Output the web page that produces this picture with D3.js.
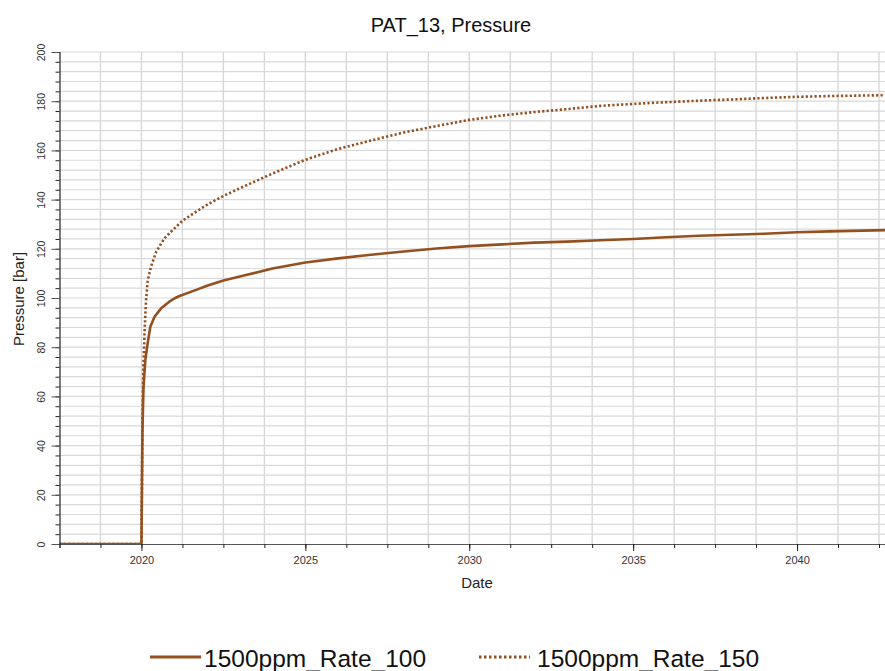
<!DOCTYPE html>
<html>
<head>
<meta charset="utf-8">
<script src="https://cdn.jsdelivr.net/npm/d3@7"></script>
<style>
  html, body { margin: 0; padding: 0; background: #fff; }
  svg { display: block; font-family: "Liberation Sans", Arial, sans-serif; }
</style>
</head>
<body>
<svg id="chart" width="885" height="671"></svg>
<script>
// Simulated well pressure (bar) at PAT_13, decimal-year timestamps
const dates100 = [2017.5, 2020.0, 2020.03, 2020.06, 2020.12, 2020.19, 2020.27, 2020.4, 2020.6, 2020.85,
  2021.0, 2021.16, 2021.67, 2022.0, 2022.5, 2023.0, 2024.0, 2025.0, 2026.0, 2027.0, 2028.0, 2029.0,
  2030.0, 2031.0, 2032.0, 2033.0, 2034.0, 2035.0, 2036.0, 2037.0, 2038.0, 2039.0, 2040.0, 2041.0,
  2042.0, 2043.0];
const rate100 = [0, 0, 45, 63, 75, 81.6, 88.3, 92.4, 95.8, 98.5,
  99.8, 100.8, 103.3, 105.0, 107.1, 108.7, 112.0, 114.4, 116.1, 117.6, 118.9, 120.1,
  121.1, 121.8, 122.5, 122.9, 123.5, 124.0, 124.7, 125.3, 125.7, 126.1, 126.7, 127.1,
  127.4, 127.7];

const dates150 = [2017.5, 2020.0, 2020.03, 2020.06, 2020.1, 2020.14, 2020.19, 2020.29, 2020.45, 2020.7,
  2021.0, 2021.25, 2021.67, 2022.0, 2022.5, 2023.0, 2024.0, 2025.0, 2026.0, 2027.0, 2028.0, 2029.0,
  2030.0, 2031.0, 2032.0, 2033.0, 2034.0, 2035.0, 2036.0, 2037.0, 2038.0, 2039.0, 2040.0, 2041.0,
  2042.0, 2043.0];
const rate150 = [0, 0, 50, 72, 88, 99, 107, 112.7, 118.8, 124.3,
  128.2, 131.4, 135.1, 137.9, 141.5, 144.6, 150.6, 156.2, 160.6, 164.0, 167.3, 169.9,
  172.4, 174.2, 175.6, 176.8, 178.1, 178.9, 179.6, 180.2, 180.7, 181.3, 181.8, 182.1,
  182.3, 182.5];

const seriesNames = ["1500ppm_Rate_100", "1500ppm_Rate_150"];
const xTickYears = [2020, 2025, 2030, 2035, 2040];
const yTickValues = [0, 20, 40, 60, 80, 100, 120, 140, 160, 180, 200];

const svg = d3.select("#chart");
const lineColor = "#94501f";

const plotLeft = 59.5, plotBottom = 544, plotTop = 52, plotRight = 885;
const pxPerYear = 32.78;
const xStart = 2017.5;
const xEnd = xStart + (plotRight - plotLeft) / pxPerYear;

const x = d3.scaleLinear().domain([xStart, xEnd]).range([plotLeft, plotRight]);
const y = d3.scaleLinear().domain([0, 200]).range([plotBottom, plotTop]);

// minor positions: every 1.25 years on x, every 4 bar on y
const xMinor = d3.range(xStart, xEnd + 1e-9, 1.25);
const yMinor = d3.range(0, 200.001, 4);

// grid
const grid = svg.append("g");
grid.selectAll("line.v").data(xMinor.filter(v => v > xStart)).join("line")
  .attr("x1", d => x(d)).attr("x2", d => x(d))
  .attr("y1", plotTop).attr("y2", plotBottom)
  .attr("stroke", "#d6d6d6").attr("stroke-width", 1.3);
grid.selectAll("line.h").data(yMinor.filter(v => v > 0)).join("line")
  .attr("x1", plotLeft).attr("x2", plotRight)
  .attr("y1", d => y(d)).attr("y2", d => y(d))
  .attr("stroke", "#d9d9d9").attr("stroke-width", 1.2);

// series lines, clipped to the plot area
svg.append("clipPath").attr("id", "plotclip").append("rect")
  .attr("x", plotLeft).attr("y", plotTop - 2)
  .attr("width", plotRight - plotLeft).attr("height", plotBottom - plotTop + 2);

const line = d3.line().x(d => x(d[0])).y(d => y(d[1]));

svg.append("path")
  .datum(d3.zip(dates150, rate150))
  .attr("d", line)
  .attr("clip-path", "url(#plotclip)")
  .attr("fill", "none").attr("stroke", lineColor)
  .attr("stroke-width", 2.6).attr("stroke-dasharray", "2.2,2.2");

svg.append("path")
  .datum(d3.zip(dates100, rate100))
  .attr("d", line)
  .attr("clip-path", "url(#plotclip)")
  .attr("fill", "none").attr("stroke", lineColor)
  .attr("stroke-width", 2.6).attr("stroke-linejoin", "round");

// x axis
const xAxisMinor = d3.axisBottom(x).tickValues(xMinor).tickSize(4).tickFormat("");
const gxm = svg.append("g").attr("transform", `translate(0,${plotBottom})`).call(xAxisMinor);
gxm.select(".domain").attr("stroke", "#555").attr("stroke-width", 1.2);
gxm.selectAll(".tick line").attr("stroke", "#222");

const xAxisMajor = d3.axisBottom(x).tickValues(xTickYears).tickSize(7).tickPadding(5).tickFormat(d3.format("d"));
const gx = svg.append("g").attr("transform", `translate(0,${plotBottom})`).call(xAxisMajor);
gx.select(".domain").remove();
gx.selectAll(".tick line").attr("stroke", "#222");
gx.selectAll(".tick text").attr("font-size", 11).attr("fill", "#333")
  .attr("font-family", "Liberation Sans, Arial, sans-serif");

// y axis
const yAxisMinor = d3.axisLeft(y).tickValues(yMinor).tickSize(4).tickFormat("");
const gym = svg.append("g").attr("transform", `translate(${plotLeft},0)`).call(yAxisMinor);
gym.select(".domain").attr("stroke", "#222").attr("stroke-width", 1.2);
gym.selectAll(".tick line").attr("stroke", "#222");

const yAxisMajor = d3.axisLeft(y).tickValues(yTickValues).tickSize(8).tickFormat(d3.format("d"));
const gy = svg.append("g").attr("transform", `translate(${plotLeft},0)`).call(yAxisMajor);
gy.select(".domain").remove();
gy.selectAll(".tick line").attr("stroke", "#555");
gy.selectAll(".tick text")
  .attr("font-size", 10.5).attr("fill", "#333")
  .attr("font-family", "Liberation Sans, Arial, sans-serif")
  .attr("text-anchor", "middle")
  .attr("dy", null)
  .attr("x", null)
  .attr("transform", "translate(-15,0) rotate(-90)");

// titles
svg.append("text").attr("x", 451).attr("y", 32).attr("text-anchor", "middle")
  .attr("font-size", 20).attr("fill", "#111").text("PAT_13, Pressure");
svg.append("text").attr("x", 477).attr("y", 588).attr("text-anchor", "middle")
  .attr("font-size", 15).attr("fill", "#222").text("Date");
svg.append("text").attr("transform", "translate(24,299) rotate(-90)").attr("text-anchor", "middle")
  .attr("font-size", 15).attr("fill", "#222").text("Pressure [bar]");

// legend
const legend = svg.append("g");
const legendItems = [
  { name: seriesNames[0], x: 150, tx: 204, dash: null },
  { name: seriesNames[1], x: 479, tx: 537, dash: "2.5,2.5" }
];
legendItems.forEach(it => {
  legend.append("line")
    .attr("x1", it.x).attr("x2", it.x + 51).attr("y1", 657).attr("y2", 657)
    .attr("stroke", lineColor).attr("stroke-width", 3.2)
    .attr("stroke-dasharray", it.dash);
  legend.append("text").attr("x", it.tx).attr("y", 667)
    .attr("font-size", 24.5).attr("fill", "#111").text(it.name);
});
</script>
</body>
</html>
